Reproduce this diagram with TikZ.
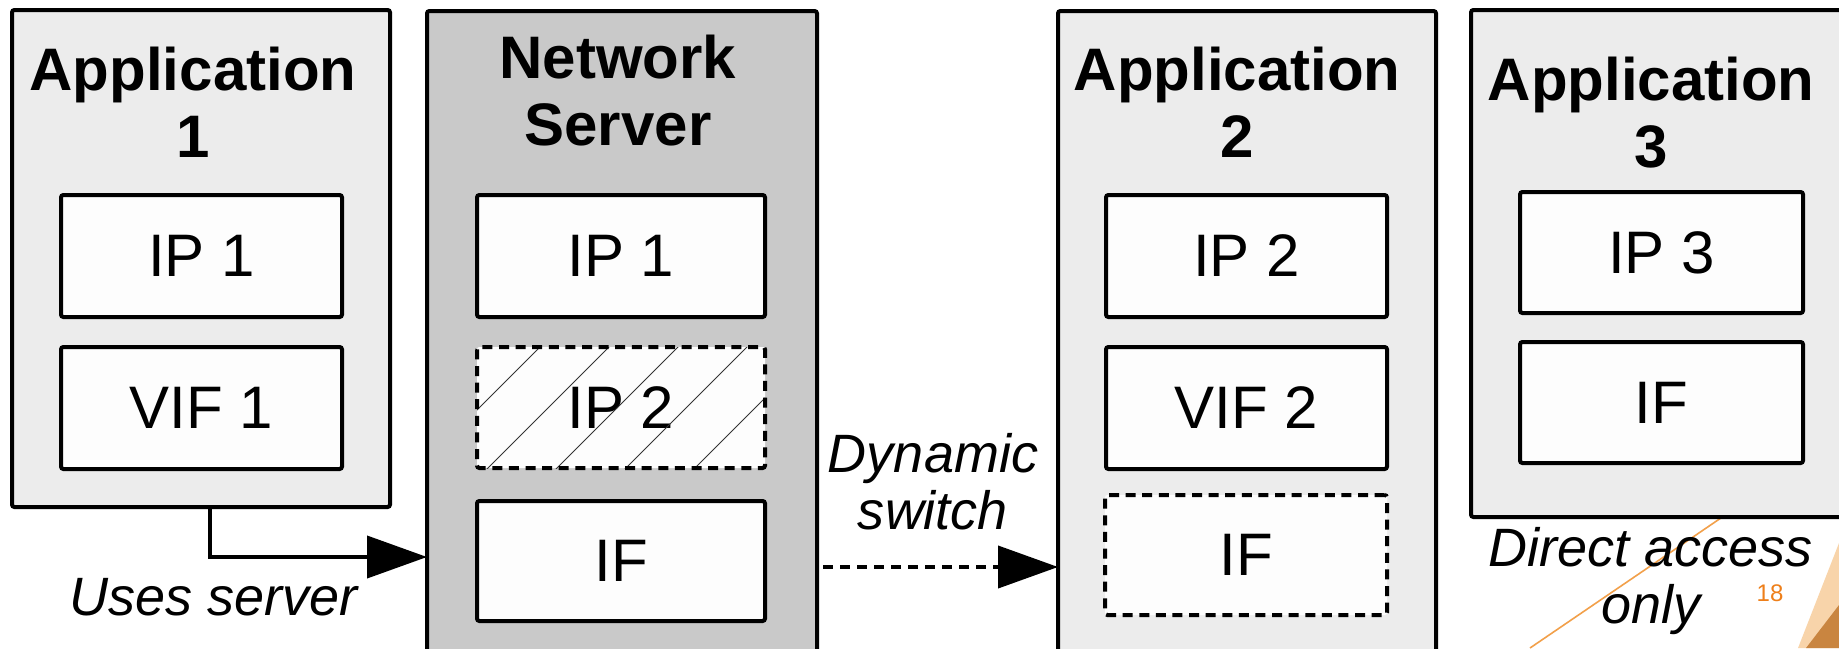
\documentclass[tikz,border=0pt]{standalone}
\usepackage{fontspec}
\setmainfont{Liberation Sans}
\usetikzlibrary{arrows.meta,fit}
\definecolor{appgray}{HTML}{ECECEC}
\definecolor{srvgray}{HTML}{C9C9C9}
\definecolor{inwhite}{HTML}{FDFDFD}
\definecolor{slideorange}{HTML}{F2A04A}
\definecolor{peach}{HTML}{F8D4AA}
\definecolor{rust}{HTML}{C98540}
\definecolor{pagenum}{HTML}{EE7F1A}
\begin{document}
\begin{tikzpicture}[x=0.5pt,y=-0.5pt,
  framed/.style={draw=black,line width=2pt,rounded corners=1.2pt,inner sep=0pt,outer sep=0pt},
  appbox/.style={framed,fill=appgray},
  srvbox/.style={framed,fill=srvgray},
  inbox/.style={framed,fill=inwhite,font=\fontsize{30}{36}\selectfont},
  size/.style 2 args={minimum width=#1pt,minimum height=#2pt},
  dashbox/.style={inbox,dash pattern=on 5pt off 3.3pt},
  dashedborder/.style={draw=black,line width=2pt,rounded corners=1.2pt,dash pattern=on 5pt off 3.3pt},
  hatchline/.style={draw=black!80,line width=0.5pt},
  title/.style={font=\fontsize{30}{33.5}\selectfont\bfseries,align=center,inner sep=0pt},
  remark/.style={font=\fontsize{27}{28.5}\selectfont\itshape,align=center,inner sep=0pt},
  conn/.style={draw=black,line width=2pt,-{Triangle[length=30pt,width=21pt]}},
  dashconn/.style={conn,dash pattern=on 5pt off 3.5pt,shorten <=3pt},
  pageno/.style={font=\fontsize{12}{14}\selectfont,text=pagenum,inner sep=0pt}
]
\useasboundingbox (0,0) rectangle (1839,648);
\clip (0,0) rectangle (1839,648);
\fill[white] (0,0) rectangle (1839,648);

% slide decoration in the lower right corner
\fill[peach] (1839,543) -- (1798,648) -- (1839,648) -- cycle;
\fill[rust] (1839,605) -- (1806,648) -- (1839,648) -- cycle;
\draw[slideorange,line width=0.8pt] (1530,648) -- (1762,490);
\node[pageno] (pgno) at (1770,593) {18};

% outer containers
\node[appbox,fit={(12,10) (390,507)}] (app1) {};
\node[srvbox,fit={(427,11) (817,700)}] (srv) {};
\node[appbox,fit={(1058,11) (1436,700)}] (app2) {};
\node[appbox,fit={(1471,10) (1852,517)}] (app3) {};

% container titles
\node[title] (t1) at (193,102) {Application\\1};
\node[title] (ts) at (618,91) {Network\\Server};
\node[title] (t2) at (1237,102) {Application\\2};
\node[title] (t3) at (1651,113) {Application\\3};

% Application 1
\node[inbox,size={140.5}{61}] (a1ip) at (201.5,256) {IP 1};
\node[inbox,size={140.5}{61}] (a1vif) at (201.5,408) {VIF 1};

% Network server
\node[inbox,size={144}{61}] (sip1) at (621,256) {IP 1};
\node[inbox,draw=none,size={144}{60.5}] (sip2) at (621,407.5) {IP 2};
\begin{scope}
  \clip (sip2.north west) rectangle (sip2.south east);
  \foreach \c in {887,956,1025,1094,1163}
    \draw[hatchline] (\c-340,340) -- (\c-475,475);
\end{scope}
\draw[dashedborder] (sip2.north west) rectangle (sip2.south east);
\node[inbox,size={144}{60}] (sif) at (621,561) {IF};

% Application 2
\node[inbox,size={140.5}{61}] (a2ip) at (1246.5,256) {IP 2};
\node[inbox,size={140.5}{61}] (a2vif) at (1246.5,408) {VIF 2};
\node[dashbox,size={141}{60}] (a2if) at (1246,555) {IF};

% Application 3
\node[inbox,size={141.5}{60.5}] (a3ip) at (1661.5,252.5) {IP 3};
\node[inbox,size={141.5}{60.5}] (a3if) at (1661.5,402.5) {IF};

% connectors
\draw[conn] (app1.south -| 210,0) |- (srv.west |- 0,557);
\node[remark,anchor=base] (uses) at (214,615) {Uses server};

\draw[dashconn] (srv.east |- 0,567) -- (app2.west |- 0,567);
\node[remark] (dyn) at (933,482) {Dynamic\\switch};

\node[remark] (direct) at (1651,581) {Direct access\\only};
\end{tikzpicture}
\end{document}
